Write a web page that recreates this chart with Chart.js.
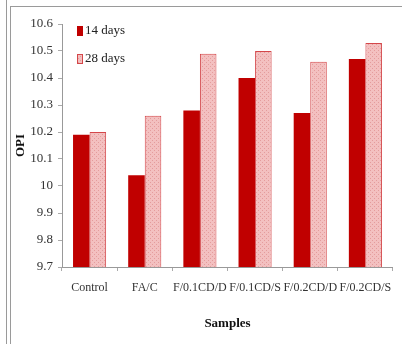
<!DOCTYPE html>
<html lang="en">
<head>
  <meta charset="UTF-8">
  <title>OPI by sample</title>
  <script src="https://cdn.jsdelivr.net/npm/chart.js"></script>
  <style>
    html, body { margin: 0; padding: 0; background: #fff; }
    .wrap { position: relative; width: 402px; height: 344px; }
    .frame-a { position: absolute; left: 6px; top: 0; width: 1px; height: 344px; background: #9a9a9a; }
    .frame-b { position: absolute; left: 10px; top: 6px; width: 392px; height: 338px;
               border-left: 1px solid #9a9a9a; border-top: 1px solid #9a9a9a; box-sizing: border-box; }
    canvas { position: absolute; left: 0; top: 0; }
  </style>
</head>
<body>
  <div class="wrap">
    <div class="frame-a"></div>
    <div class="frame-b"></div>
    <canvas id="chart" width="402" height="344"></canvas>
  </div>

  <script>
    const samples = ["Control", "FA/C", "F/0.1CD/D", "F/0.1CD/S", "F/0.2CD/D", "F/0.2CD/S"];
    const days14 = [10.19, 10.04, 10.28, 10.40, 10.27, 10.47];
    const days28 = [10.20, 10.26, 10.49, 10.50, 10.46, 10.53];

    // light pink dotted fill for the 28 days bars
    function makePattern() {
      const c = document.createElement("canvas");
      c.width = 4; c.height = 4;
      const g = c.getContext("2d");
      g.fillStyle = "#f3c0c0";
      g.fillRect(0, 0, 4, 4);
      g.fillStyle = "#e49c9c";
      g.fillRect(0, 0, 1, 1);
      g.fillRect(2, 2, 1, 1);
      return g.createPattern(c, "repeat");
    }

    const serif = "'Liberation Serif', 'DejaVu Serif', serif";

    // small legend in the top-left corner of the plot
    const cornerLegend = {
      id: "cornerLegend",
      afterDraw(chart) {
        const ctx = chart.ctx;
        const x = chart.chartArea.left + 15;
        let y = chart.chartArea.top + 7;
        ctx.save();
        ctx.font = "13px " + serif;
        ctx.textBaseline = "middle";
        chart.data.datasets.forEach(ds => {
          ctx.fillStyle = ds.backgroundColor;
          ctx.fillRect(x, y - 5, 6, 10);
          if (ds.borderWidth) {
            ctx.strokeStyle = ds.borderColor;
            ctx.lineWidth = 1;
            ctx.strokeRect(x + 0.5, y - 4.5, 5, 9);
          }
          ctx.fillStyle = "#222";
          ctx.fillText(ds.label, x + 8, y);
          y += 28;
        });
        ctx.restore();
      }
    };

    new Chart(document.getElementById("chart"), {
      type: "bar",
      data: {
        labels: samples,
        datasets: [
          {
            label: "14 days",
            data: days14,
            backgroundColor: "#c00000",
            borderColor: "#c00000",
            borderWidth: 0
          },
          {
            label: "28 days",
            data: days28,
            backgroundColor: makePattern(),
            borderColor: "#d4474a",
            borderWidth: 1
          }
        ]
      },
      plugins: [cornerLegend],
      options: {
        responsive: false,
        animation: false,
        layout: { padding: { left: 10, top: 24, right: 9, bottom: 9 } },
        datasets: { bar: { categoryPercentage: 0.6, barPercentage: 1.0 } },
        plugins: {
          tooltip: { enabled: false },
          legend: { display: false }
        },
        scales: {
          x: {
            afterFit: s => { s.height = 68; },
            grid: { display: true, drawOnChartArea: false, offset: true, tickLength: 4, color: "#aaa" },
            border: { color: "#999" },
            ticks: { color: "#333", padding: 10, maxRotation: 0, autoSkip: false,
                     font: { family: serif, size: 12 } },
            title: { display: true, text: "Samples", color: "#111", padding: { top: 6 },
                     font: { family: serif, size: 13, weight: "bold" } }
          },
          y: {
            min: 9.7,
            max: 10.6,
            afterFit: s => { s.width = 52; },
            grid: { display: true, drawOnChartArea: false, tickLength: 4, color: "#aaa" },
            border: { color: "#999" },
            ticks: { stepSize: 0.1, color: "#333", padding: 5,
                     callback: v => Math.round(v * 10) / 10,
                     font: { family: serif, size: 13 } },
            title: { display: true, text: "OPI", color: "#111", padding: { top: 3, bottom: 0 },
                     font: { family: serif, size: 13, weight: "bold" } }
          }
        }
      }
    });
  </script>
</body>
</html>
